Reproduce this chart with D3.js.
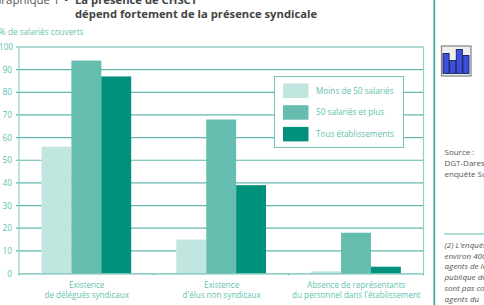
<!DOCTYPE html>
<html lang="fr">
<head>
<meta charset="utf-8">
<script src="https://cdnjs.cloudflare.com/ajax/libs/d3/7.8.5/d3.min.js"></script>
<style>
html,body{margin:0;padding:0;background:#fff;}
svg{display:block;font-family:"Open Sans",sans-serif;}
</style>
</head>
<body>
<svg id="chart" width="484" height="305"></svg>
<script>
const categories = [
  ["Existence", "de délégués syndicaux"],
  ["Existence", "d'élus non syndicaux"],
  ["Absence de représentants", "du personnel dans l'établissement"]
];
const seriesNames = ["Moins de 50 salariés", "50 salariés et plus", "Tous établissements"];
const seriesColors = ["#c1e5df", "#65bdb0", "#00917c"];
const under50 = [56, 15, 1];
const over50 = [94, 68, 18];
const allSites = [87, 39, 3];
const yTicks = [0, 10, 20, 30, 40, 50, 60, 70, 80, 90, 100];
const sourceLines = ["Source :", "DGT-Dares,", "enquête Sumer"];
const noteLines = ["(2) L'enquête", "environ 400", "agents de la", "publique de", "sont pas co", "agents du"];
const iconHeights = [20, 13, 24, 18];

const svg = d3.select("#chart");
const teal = "#5fbfb0";
const plotLeft = 19, plotRight = 423.5, plotTop = 47, plotBottom = 273.5;

const y = d3.scaleLinear().domain([0, 100]).range([plotBottom, plotTop]);
const x0 = d3.scaleBand().domain(d3.range(categories.length)).range([plotLeft, plotRight]);
const x1 = d3.scaleBand().domain(d3.range(seriesNames.length)).range([22.5, 112.2]);

// Heading, cut by the top of the page
svg.append("text").attr("x", -7).attr("y", 3.5).attr("font-size", 11.5).attr("fill", "#555").text("Graphique 1");
svg.append("text").attr("x", 64).attr("y", 3.5).attr("font-size", 12).attr("font-weight", 700).attr("fill", "#444").text("•");
svg.selectAll(".heading").data(["La présence de CHSCT", "dépend fortement de la présence syndicale"])
  .join("text").attr("x", 75).attr("y", (d, i) => 3.5 + i * 14.5)
  .attr("font-size", 11.25).attr("font-weight", 700).attr("fill", "#444").text(d => d);

svg.append("text").attr("x", -1).attr("y", 34.5).attr("font-size", 8.2).attr("fill", teal).text("% de salariés couverts");

// Gridlines and frame
svg.append("g").selectAll("line").data(yTicks.filter(t => t > 0)).join("line")
  .attr("x1", plotLeft - 3).attr("x2", plotRight)
  .attr("y1", d => y(d)).attr("y2", d => y(d))
  .attr("stroke", "#62b9ab").attr("stroke-width", 1.2);
svg.append("line").attr("x1", plotLeft).attr("x2", plotLeft).attr("y1", plotTop).attr("y2", plotBottom + 1).attr("stroke", "#8fd0c5").attr("stroke-width", 1.2);
svg.append("line").attr("x1", plotRight).attr("x2", plotRight).attr("y1", plotTop).attr("y2", plotBottom).attr("stroke", "#8fd0c5").attr("stroke-width", 1.2);

// Value axis labels
svg.append("g").selectAll("text").data(yTicks).join("text")
  .attr("x", d => d === 100 ? 13 : 12).attr("y", d => y(d) + 3)
  .attr("text-anchor", "end").attr("font-size", 8.4).attr("fill", teal)
  .text(d => d);

// Bars by group
const groups = svg.append("g").selectAll("g").data(categories).join("g")
  .attr("transform", (d, i) => `translate(${x0(i)},0)`);
[under50, over50, allSites].forEach((values, s) => {
  groups.append("rect")
    .attr("x", x1(s))
    .attr("width", x1.bandwidth())
    .attr("y", (d, i) => y(values[i]))
    .attr("height", (d, i) => plotBottom - y(values[i]))
    .attr("fill", seriesColors[s]);
});

// Baseline with separators between groups
svg.append("line").attr("x1", plotLeft).attr("x2", plotRight).attr("y1", plotBottom + 0.3).attr("y2", plotBottom + 0.3).attr("stroke", "#6fc0b3").attr("stroke-width", 1.2);
svg.append("g").selectAll("line").data(d3.range(categories.length + 1)).join("line")
  .attr("x1", d => plotLeft + d * x0.step()).attr("x2", d => plotLeft + d * x0.step())
  .attr("y1", plotBottom).attr("y2", plotBottom + 2).attr("stroke", "#6fc0b3");

// Category labels
groups.each(function (d) {
  d3.select(this).selectAll("text").data(d).join("text")
    .attr("x", x0.bandwidth() / 2 + 0.3).attr("y", (t, i) => 287.5 + i * 10.7)
    .attr("text-anchor", "middle").attr("font-size", 8.05).attr("fill", teal).text(t => t);
});

// Legend
const legend = svg.append("g");
legend.append("rect").attr("x", 274.5).attr("y", 76.5).attr("width", 129).attr("height", 71)
  .attr("fill", "#fff").attr("stroke", "#77c4b8");
seriesNames.forEach((name, i) => {
  const cy = 90.5 + i * 21.7;
  legend.append("rect").attr("x", 283).attr("y", cy - 7).attr("width", 25.5).attr("height", 14.5).attr("fill", seriesColors[i]);
  legend.append("text").attr("x", 316).attr("y", cy + 3).attr("font-size", 8.2).attr("fill", teal).text(name);
});

// Side column
svg.append("line").attr("x1", 434.3).attr("x2", 434.3).attr("y1", 0).attr("y2", 305).attr("stroke", "#3fa899").attr("stroke-width", 1.8);

// Small bar-chart pictogram
const icon = svg.append("g");
icon.append("rect").attr("x", 441.5).attr("y", 46).attr("width", 29.5).attr("height", 30).attr("fill", "#eef0f0").attr("stroke", "#8a8a8a").attr("stroke-width", 1.3);
const iconX = d3.scaleBand().domain(d3.range(iconHeights.length)).range([443, 469]).paddingInner(0.08);
icon.selectAll(".bar").data(iconHeights).join("rect")
  .attr("x", (d, i) => iconX(i)).attr("width", iconX.bandwidth())
  .attr("y", d => 73.5 - d).attr("height", d => d)
  .attr("fill", "#3d4fdc").attr("stroke", "#14205a").attr("stroke-width", 0.9);

svg.append("g").selectAll("text").data(sourceLines).join("text")
  .attr("x", 444.5).attr("y", (d, i) => 155 + i * 10.8)
  .attr("font-size", 8).attr("fill", "#555").text(d => d);

svg.append("line").attr("x1", 444).attr("x2", 484).attr("y1", 234).attr("y2", 234).attr("stroke", "#5fbfb0");

svg.append("g").selectAll("text").data(noteLines).join("text")
  .attr("x", 444.5).attr("y", (d, i) => 248 + i * 10.7)
  .attr("font-size", 8).attr("font-style", "italic").attr("fill", "#555").text(d => d);
</script>
</body>
</html>
